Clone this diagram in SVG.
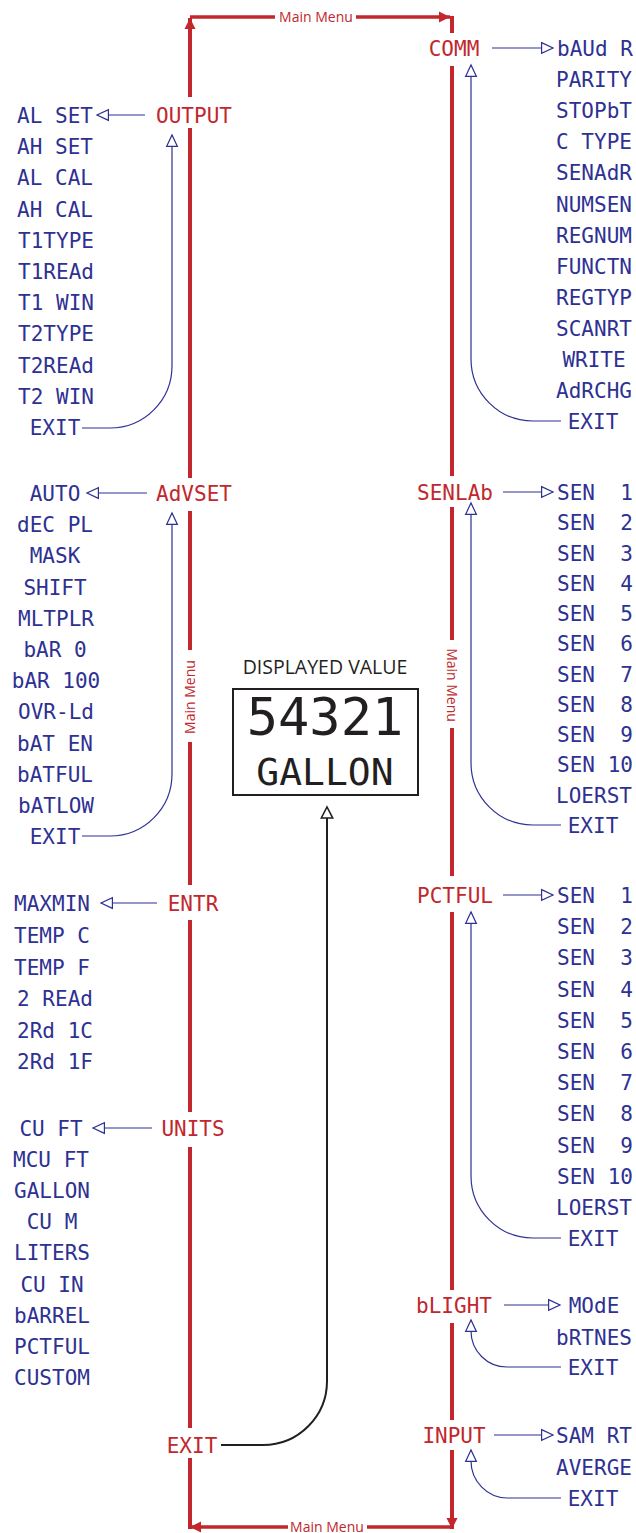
<svg xmlns="http://www.w3.org/2000/svg" width="636" height="1533" viewBox="0 0 636 1533">
<style>
.lcd{font-family:"DejaVu Sans Mono","Liberation Mono",monospace;font-size:21px;text-anchor:middle;white-space:pre}
.b{fill:#2e3192}
.r{fill:#c1272d}
.mm{font-family:"Open Sans","Liberation Sans",sans-serif;font-size:14px;fill:#c1272d;text-anchor:middle}
.red{stroke:#c1272d;stroke-width:4;fill:none}
.redh{stroke:#c1272d;stroke-width:3.5;fill:none}
.blue{stroke:#2e3192;stroke-width:1.2;fill:none}
.blk{stroke:#231f20;stroke-width:2;fill:none}
</style>
<defs>
<marker id="ra" markerUnits="userSpaceOnUse" markerWidth="12" markerHeight="12" refX="11" refY="5.5" orient="auto" overflow="visible"><path d="M0,0 L11,5.5 L0,11 z" fill="#c1272d"/></marker>
<marker id="ba" markerUnits="userSpaceOnUse" markerWidth="14" markerHeight="14" refX="12" refY="6" orient="auto" overflow="visible"><path d="M0.6,0.6 L12,6 L0.6,11.4 z" fill="#fff" stroke="#2e3192" stroke-width="1.2"/></marker>
<marker id="ka" markerUnits="userSpaceOnUse" markerWidth="14" markerHeight="14" refX="12" refY="6.5" orient="auto" overflow="visible"><path d="M1,0.8 L12,6.5 L1,12.2 z" fill="#fff" stroke="#231f20" stroke-width="1.6"/></marker>
</defs>
<rect width="636" height="1533" fill="#fff"/>

<g id="connectors">
<!-- main menu loop -->
<path class="red" d="M190,97 V18" marker-end="url(#ra)"/>
<path class="redh" d="M190,17 H275"/>
<path class="redh" d="M356,17 H450" marker-end="url(#ra)"/>
<path class="red" d="M452,16 V33"/>
<path class="red" d="M190,128 V478 M190,511 V650 M190,742 V885 M190,920 V1112 M190,1147 V1428 M190,1458 V1529"/>
<path class="red" d="M452,66 V476 M452,507 V640 M452,728 V876 M452,912 V1290 M452,1323 V1420"/>
<path class="red" d="M452,1450 V1529" marker-end="url(#ra)"/>
<path class="redh" d="M452,1527 H367"/>
<path class="redh" d="M288,1527 H190" marker-end="url(#ra)"/>
<text class="mm" x="316" y="22">Main Menu</text>
<text class="mm" x="327" y="1532">Main Menu</text>
<text class="mm" transform="translate(195,697) rotate(-90)" x="0" y="0">Main Menu</text>
<text class="mm" transform="translate(447,685) rotate(90)" x="0" y="0">Main Menu</text>
<!-- left submenus -->
<path class="blue" d="M145,115 H97" marker-end="url(#ba)"/>
<path class="blue" d="M82,428 H110 A62,62 0 0 0 172,366 V135" marker-end="url(#ba)"/>
<path class="blue" d="M147,493 H87" marker-end="url(#ba)"/>
<path class="blue" d="M82,836 H110 A62,62 0 0 0 172,774 V513" marker-end="url(#ba)"/>
<path class="blue" d="M157,903 H101" marker-end="url(#ba)"/>
<path class="blue" d="M152,1128 H93" marker-end="url(#ba)"/>
<!-- right submenus -->
<path class="blue" d="M492,48 H553" marker-end="url(#ba)"/>
<path class="blue" d="M561,421 H533 A62,62 0 0 1 471,359 V65" marker-end="url(#ba)"/>
<path class="blue" d="M503,492 H553" marker-end="url(#ba)"/>
<path class="blue" d="M561,825 H533 A62,62 0 0 1 471,763 V503" marker-end="url(#ba)"/>
<path class="blue" d="M503,895 H553" marker-end="url(#ba)"/>
<path class="blue" d="M561,1238 H533 A62,62 0 0 1 471,1176 V912" marker-end="url(#ba)"/>
<path class="blue" d="M504,1305 H560" marker-end="url(#ba)"/>
<path class="blue" d="M561,1367 H507 A36,36 0 0 1 471,1331 V1320" marker-end="url(#ba)"/>
<path class="blue" d="M494,1435 H553" marker-end="url(#ba)"/>
<path class="blue" d="M561,1498 H507 A37,37 0 0 1 471,1461 V1450" marker-end="url(#ba)"/>
<!-- exit to display -->
<path class="blk" d="M221,1445 H263 A64,64 0 0 0 327,1381 V807" marker-end="url(#ka)"/>
</g>

<g id="display">
<text x="325" y="674" font-family="'Open Sans','Liberation Sans',sans-serif" font-size="19.5" fill="#231f20" text-anchor="middle">DISPLAYED VALUE</text>
<rect x="233" y="689" width="185" height="106" fill="none" stroke="#231f20" stroke-width="2"/>
<text x="325" y="735" font-family="'DejaVu Sans Mono','Liberation Mono',monospace" font-size="52" fill="#231f20" text-anchor="middle">54321</text>
<text x="325" y="785" font-family="'DejaVu Sans Mono','Liberation Mono',monospace" font-size="38" fill="#231f20" text-anchor="middle">GALLON</text>
</g>

<g id="output">
<text class="lcd r" x="194" y="122.5">OUTPUT</text>
<g class="lcd b">
<text class="lcd b" x="55" y="122.5">AL SET</text>
<text class="lcd b" x="55" y="153.5">AH SET</text>
<text class="lcd b" x="55" y="184.5">AL CAL</text>
<text class="lcd b" x="55" y="216.5">AH CAL</text>
<text class="lcd b" x="56" y="247.5">T1TYPE</text>
<text class="lcd b" x="56" y="278.5">T1REAd</text>
<text class="lcd b" x="56" y="309.5">T1 WIN</text>
<text class="lcd b" x="56" y="340.5">T2TYPE</text>
<text class="lcd b" x="56" y="372.5">T2REAd</text>
<text class="lcd b" x="56" y="403.5">T2 WIN</text>
<text class="lcd b" x="55" y="434.5">EXIT</text>
</g>
</g>

<g id="advset">
<text class="lcd r" x="194" y="500.5">AdVSET</text>
<text class="lcd b" x="55" y="500.5">AUTO</text>
<text class="lcd b" x="55" y="531.5">dEC PL</text>
<text class="lcd b" x="55" y="562.5">MASK</text>
<text class="lcd b" x="55" y="594.5">SHIFT</text>
<text class="lcd b" x="56" y="625.5">MLTPLR</text>
<text class="lcd b" x="55" y="656.5">bAR 0</text>
<text class="lcd b" x="56" y="687.5">bAR 100</text>
<text class="lcd b" x="56" y="718.5">OVR-Ld</text>
<text class="lcd b" x="55" y="750.5">bAT EN</text>
<text class="lcd b" x="55" y="781.5">bATFUL</text>
<text class="lcd b" x="56" y="812.5">bATLOW</text>
<text class="lcd b" x="55" y="843.5">EXIT</text>
</g>

<g id="entr">
<text class="lcd r" x="193" y="910.5">ENTR</text>
<text class="lcd b" x="52" y="910.5">MAXMIN</text>
<text class="lcd b" x="52" y="942.5">TEMP C</text>
<text class="lcd b" x="52" y="974.5">TEMP F</text>
<text class="lcd b" x="55" y="1005.5">2 REAd</text>
<text class="lcd b" x="55" y="1037.5">2Rd 1C</text>
<text class="lcd b" x="55" y="1068.5">2Rd 1F</text>
</g>

<g id="units">
<text class="lcd r" x="193" y="1135.5">UNITS</text>
<text class="lcd b" x="51" y="1135.5">CU FT</text>
<text class="lcd b" x="51" y="1166.5">MCU FT</text>
<text class="lcd b" x="52" y="1197.5">GALLON</text>
<text class="lcd b" x="52" y="1228.5">CU M</text>
<text class="lcd b" x="52" y="1259.5">LITERS</text>
<text class="lcd b" x="52" y="1291.5">CU IN</text>
<text class="lcd b" x="52" y="1322.5">bARREL</text>
<text class="lcd b" x="52" y="1353.5">PCTFUL</text>
<text class="lcd b" x="52" y="1384.5">CUSTOM</text>
</g>

<g id="exit-main">
<text class="lcd r" x="192" y="1452.5">EXIT</text>
</g>

<g id="comm">
<text class="lcd r" x="454" y="55.5">COMM</text>
<text class="lcd b" x="595" y="55.5">bAUd R</text>
<text class="lcd b" x="594" y="86.5">PARITY</text>
<text class="lcd b" x="594" y="117.5">STOPbT</text>
<text class="lcd b" x="594" y="148.5">C TYPE</text>
<text class="lcd b" x="594" y="179.5">SENAdR</text>
<text class="lcd b" x="594" y="211.5">NUMSEN</text>
<text class="lcd b" x="594" y="242.5">REGNUM</text>
<text class="lcd b" x="594" y="273.5">FUNCTN</text>
<text class="lcd b" x="594" y="304.5">REGTYP</text>
<text class="lcd b" x="594" y="335.5">SCANRT</text>
<text class="lcd b" x="594" y="366.5">WRITE</text>
<text class="lcd b" x="594" y="397.5">AdRCHG</text>
<text class="lcd b" x="593" y="428.5">EXIT</text>
</g>

<g id="senlab">
<text class="lcd r" x="455" y="499.5">SENLAb</text>
<text class="lcd b" x="595" y="499.5">SEN  1</text>
<text class="lcd b" x="595" y="529.5">SEN  2</text>
<text class="lcd b" x="595" y="560.5">SEN  3</text>
<text class="lcd b" x="595" y="590.5">SEN  4</text>
<text class="lcd b" x="595" y="620.5">SEN  5</text>
<text class="lcd b" x="595" y="650.5">SEN  6</text>
<text class="lcd b" x="595" y="681.5">SEN  7</text>
<text class="lcd b" x="595" y="711.5">SEN  8</text>
<text class="lcd b" x="595" y="741.5">SEN  9</text>
<text class="lcd b" x="595" y="771.5">SEN 10</text>
<text class="lcd b" x="594" y="802.5">LOERST</text>
<text class="lcd b" x="593" y="832.5">EXIT</text>
</g>

<g id="pctful">
<text class="lcd r" x="455" y="902.5">PCTFUL</text>
<text class="lcd b" x="595" y="902.5">SEN  1</text>
<text class="lcd b" x="595" y="933.5">SEN  2</text>
<text class="lcd b" x="595" y="964.5">SEN  3</text>
<text class="lcd b" x="595" y="996.5">SEN  4</text>
<text class="lcd b" x="595" y="1027.5">SEN  5</text>
<text class="lcd b" x="595" y="1058.5">SEN  6</text>
<text class="lcd b" x="595" y="1089.5">SEN  7</text>
<text class="lcd b" x="595" y="1120.5">SEN  8</text>
<text class="lcd b" x="595" y="1152.5">SEN  9</text>
<text class="lcd b" x="595" y="1183.5">SEN 10</text>
<text class="lcd b" x="594" y="1214.5">LOERST</text>
<text class="lcd b" x="593" y="1245.5">EXIT</text>
</g>

<g id="blight">
<text class="lcd r" x="454" y="1312.5">bLIGHT</text>
<text class="lcd b" x="594" y="1312.5">MOdE</text>
<text class="lcd b" x="594" y="1344.5">bRTNES</text>
<text class="lcd b" x="593" y="1374.5">EXIT</text>
</g>

<g id="input">
<text class="lcd r" x="454" y="1442.5">INPUT</text>
<text class="lcd b" x="594" y="1442.5">SAM RT</text>
<text class="lcd b" x="594" y="1474.5">AVERGE</text>
<text class="lcd b" x="593" y="1505.5">EXIT</text>
</g>
</svg>
